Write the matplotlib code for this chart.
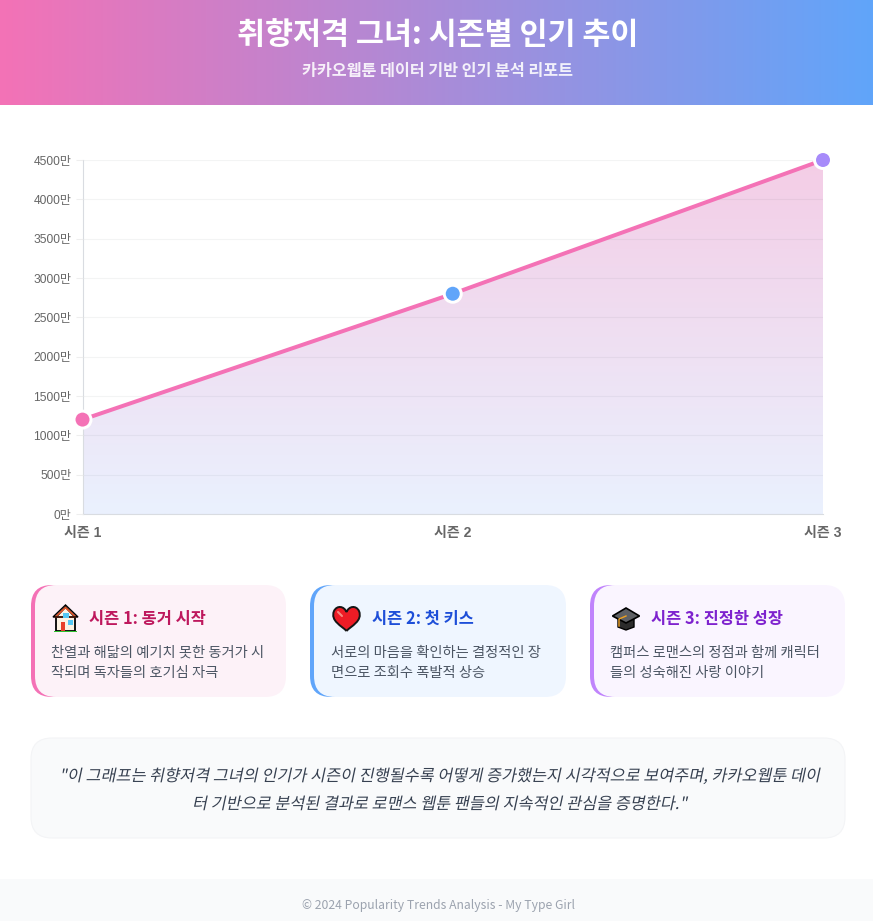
import numpy as np
import matplotlib
matplotlib.use("Agg")
import matplotlib.pyplot as plt
from matplotlib.colors import to_rgb
from matplotlib.patches import FancyBboxPatch, Rectangle, Polygon
from matplotlib.path import Path
from matplotlib.patches import PathPatch
from matplotlib.patheffects import AbstractPathEffect
from matplotlib.transforms import Affine2D

seasons = ["시즌 1", "시즌 2", "시즌 3"]
popularity = [1200, 2800, 4500]
point_colors = ["#f472b6", "#60a5fa", "#a78bfa"]
y_ticks = [0, 500, 1000, 1500, 2000, 2500, 3000, 3500, 4000, 4500]

title = "취향저격 그녀: 시즌별 인기 추이"
subtitle = "카카오웹툰 데이터 기반 인기 분석 리포트"
card_titles = ["시즌 1: 동거 시작", "시즌 2: 첫 키스", "시즌 3: 진정한 성장"]
card_lines = [
    ["찬열과 해닮의 예기치 못한 동거가 시", "작되며 독자들의 호기심 자극"],
    ["서로의 마음을 확인하는 결정적인 장", "면으로 조회수 폭발적 상승"],
    ["캠퍼스 로맨스의 정점과 함께 캐릭터", "들의 성숙해진 사랑 이야기"],
]
quote_lines = [
    '"이 그래프는 취향저격 그녀의 인기가 시즌이 진행될수록 어떻게 증가했는지 시각적으로 보여주며, 카카오웹툰 데이',
    '터 기반으로 분석된 결과로 로맨스 웹툰 팬들의 지속적인 관심을 증명한다."',
]
footer = "© 2024 Popularity Trends Analysis - My Type Girl"

W, H = 873, 921
KR = ["Noto Sans CJK KR", "DejaVu Sans"]
CHART_FONT = ["Liberation Sans", "Noto Sans CJK KR"]


def px(size):
    return size * 0.72


class Oblique(AbstractPathEffect):
    # no italic Korean face installed, so lean the glyphs like a browser does
    def draw_path(self, renderer, gc, tpath, affine, rgbFace=None):
        renderer.draw_path(gc, tpath, Affine2D().skew_deg(12, 0) + affine, rgbFace)


def draw_card(ax, x0, x1, y0, y1, border, fill):
    edge = FancyBboxPatch((x0, y0), x1 - x0, y1 - y0, boxstyle="round,pad=0,rounding_size=21",
                          fc=border, ec="none")
    ax.add_patch(edge)
    # only the left side shows, otherwise the colour fringes the right corners
    edge.set_clip_path(Rectangle((x0, y0), 30, y1 - y0, transform=ax.transData))
    ax.add_patch(FancyBboxPatch((x0 + 4, y0), x1 - x0 - 4, y1 - y0, boxstyle="round,pad=0,rounding_size=21",
                                fc=fill, ec="none"))


def draw_house(ax, x, y):
    ax.add_patch(Polygon([(x + 3, y + 26), (x + 3, y + 12), (x + 12.5, y + 2), (x + 22, y + 12), (x + 22, y + 26)],
                         fc="#fdf3e3", ec="black", lw=1.3))
    ax.add_patch(Polygon([(x + 2, y + 12), (x + 12.5, y + 2.5), (x + 23, y + 12)], fc="none", ec="#e2572b", lw=1.3))
    ax.add_patch(Polygon([(x, y + 12), (x + 12.5, y), (x + 25, y + 12)], fc="none", ec="black", lw=1))
    ax.add_patch(Rectangle((x + 8, y + 17), 4, 9, fc="#e8402a", ec="none"))
    ax.add_patch(Rectangle((x + 10, y + 8), 6, 4.5, fc="#55c8f5", ec="none"))
    ax.add_patch(Rectangle((x + 15, y + 15), 5, 5, fc="#55c8f5", ec="none"))
    ax.add_patch(Rectangle((x + 1, y + 25.5), 23, 1.5, fc="#2fc02f", ec="none"))


def draw_heart(ax, x, y):
    verts = [(x + 13.5, y + 24),
             (x + 9, y + 19), (x - 3, y + 14), (x + 1, y + 4),
             (x + 4, y - 2), (x + 11, y - 1), (x + 13.5, y + 5),
             (x + 16, y - 1), (x + 23, y - 2), (x + 26, y + 4),
             (x + 30, y + 14), (x + 18, y + 19), (x + 13.5, y + 24)]
    codes = [Path.MOVETO] + [Path.CURVE4] * 12
    ax.add_patch(PathPatch(Path(verts, codes), fc="#ee1c25", ec="#161616", lw=1.4))
    ax.plot([x + 5, x + 9], [y + 5, y + 9], color="#f58a80", lw=1.5, solid_capstyle="round")


def draw_cap(ax, x, y):
    ax.add_patch(Polygon([(x + 6, y + 11), (x + 6, y + 19), (x + 14, y + 22), (x + 22, y + 19), (x + 22, y + 11)],
                         fc="#2b2b2b", ec="black", lw=1))
    ax.add_patch(Polygon([(x + 0.5, y + 8), (x + 14, y), (x + 27.5, y + 8), (x + 14, y + 15)],
                         fc="#5e6064", ec="black", lw=1.2))
    ax.plot([x + 14, x + 7, x + 7], [y + 8, y + 11, y + 18], color="#f0a020", lw=1)


fig = plt.figure(figsize=(W / 100, H / 100), dpi=100, facecolor="white")
bg = fig.add_axes([0, 0, 1, 1])
bg.axis("off")

# header gradient
left, right = np.array(to_rgb("#f472b6")), np.array(to_rgb("#60a5fa"))
ramp_x = np.linspace(0, 1, W)[None, :, None]
bg.imshow(left + (right - left) * ramp_x, extent=(0, W, 105, 0), aspect="auto", interpolation="bilinear", zorder=0)
bg.set_xlim(0, W)
bg.set_ylim(H, 0)

bg.text(437.5, 35, title, color="white", fontsize=px(30.5), fontweight="bold", family=KR, ha="center", va="center")
bg.text(437.5, 70.5, subtitle, color="#fff", alpha=0.88, fontsize=px(16.25), fontweight="bold", family=KR,
        ha="center", va="center")

# cards
card_x = [(31, 286), (310, 566), (590, 845)]
borders = ["#f472b6", "#60a5fa", "#c084fc"]
fills = ["#fdf2f8", "#eff6ff", "#faf5ff"]
title_colors = ["#be185d", "#1d4ed8", "#7e22ce"]
title_x = [89, 372, 651]
body_x = [51, 331, 610]
for i in range(3):
    draw_card(bg, card_x[i][0], card_x[i][1], 585, 697, borders[i], fills[i])
    bg.text(title_x[i], 619, card_titles[i], color=title_colors[i], fontsize=px(16.4), fontweight="bold",
            family=KR, ha="left", va="center")
    for j, line in enumerate(card_lines[i]):
        bg.text(body_x[i], 653 + j * 20, line, color="#4b5563", fontsize=px(14.3), family=KR, ha="left", va="center")
draw_house(bg, 53, 605)
draw_heart(bg, 333, 607)
draw_cap(bg, 612, 608)

# quote box
bg.add_patch(FancyBboxPatch((31, 738), 814, 100, boxstyle="round,pad=0,rounding_size=21",
                            fc="#f9fafb", ec="#f3f4f6", lw=0.8))
for j, line in enumerate(quote_lines):
    txt = bg.text(439.5, 776.5 + j * 28, line, color="#374151", fontsize=px(16.3), family=KR, ha="center", va="center")
    txt.set_path_effects([Oblique()])

# footer
bg.add_patch(Rectangle((0, 879), W, 42, fc="#f9fafb", ec="none"))
bg.text(438, 905, footer, color="#9ca3af", fontsize=px(12.2), family=KR, ha="center", va="center")

# chart
plot_l, plot_r, plot_t, plot_b = 82.5, 823, 160, 514
ax = fig.add_axes([plot_l / W, 1 - plot_b / H, (plot_r - plot_l) / W, (plot_b - plot_t) / H])
ax.patch.set_alpha(0)
x = np.arange(len(seasons))
ax.set_xlim(0, 2)
ax.set_ylim(0, 4500)

top_c, bot_c = np.array(to_rgb("#f4cde6")), np.array(to_rgb("#eaf1fe"))
ramp = np.linspace(0, 1, 256)[:, None, None]
grad = ax.imshow(top_c + (bot_c - top_c) * ramp, extent=(0, 2, 0, 4500), aspect="auto", zorder=1)
area = ax.fill_between(x, popularity, 0, facecolor="none", edgecolor="none", zorder=1)
grad.set_clip_path(area.get_paths()[0], transform=ax.transData)

ax.set_yticks(y_ticks)
ax.set_yticklabels([f"{v}만" for v in y_ticks], family=CHART_FONT, fontsize=px(12), color="#666666")
ax.set_xticks(x)
ax.set_xticklabels(seasons, family=CHART_FONT, fontsize=px(14), fontweight="bold", color="#666666")
ax.tick_params(axis="y", length=5.4, width=0.8, color="#eeeeee", pad=2.6)
ax.tick_params(axis="x", length=0, pad=8.3)
ax.grid(axis="y", color="#1f2937", alpha=0.05, lw=0.8, zorder=2)
ax.set_axisbelow(False)
for name in ["top", "right"]:
    ax.spines[name].set_visible(False)
for name in ["left", "bottom"]:
    ax.spines[name].set_color("#d9dce1")
    ax.spines[name].set_linewidth(0.8)

ax.plot(x, popularity, color="#f472b6", lw=px(4), zorder=3, solid_capstyle="round")
ax.scatter(x, popularity, s=px(17) ** 2, c=point_colors, edgecolors="white", linewidths=px(3), zorder=4,
           clip_on=False)

fig.savefig("out.png", dpi=100, facecolor="white")
